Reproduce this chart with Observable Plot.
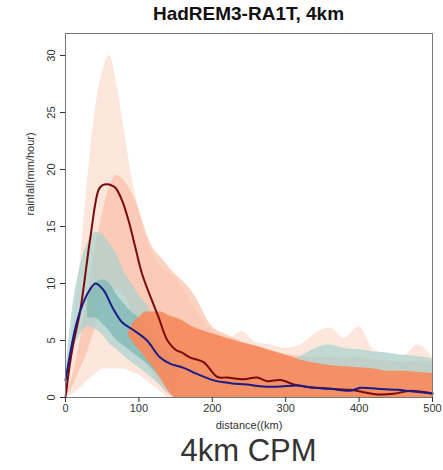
<!DOCTYPE html>
<html>
<head>
<meta charset="utf-8">
<script src="https://cdn.jsdelivr.net/npm/d3@7"></script>
<script src="https://cdn.jsdelivr.net/npm/@observablehq/plot@0.6"></script>
<style>
  html, body { margin: 0; padding: 0; background: #fff; }
  body { width: 443px; height: 470px; position: relative; overflow: hidden; font-family: "Liberation Sans", Arial, sans-serif; }
  #title { position: absolute; left: 65px; width: 367px; top: 3px; text-align: center; font-weight: bold; font-size: 19px; color: #111; }
  #caption { position: absolute; left: 65px; width: 367px; top: 433px; text-align: center; font-size: 31px; color: #333; }
  #chart { position: absolute; left: 0; top: 0; }
</style>
</head>
<body>
<div id="chart"></div>
<div id="title">HadREM3-RA1T, 4km</div>
<div id="caption">4km CPM</div>
<script>
// ---- data ----
const grid = [0,10,20,30,40,50,60,70,80,90,100,110,120,130,140,150,160,170,180,190,200,220,240,260,280,300,320,340,360,380,400,420,440,460,480,500];

// orange (4km) scatter cloud envelopes
const orangeSparseHi = [1,6,12,19,25,28.5,30,27.5,23.5,19.5,16.5,14,12.5,11.5,11,10.5,9.5,8.5,7.5,6.5,5.8,5,5.8,4.8,4.6,4.3,4.6,5.6,6.1,5.2,6.2,4.2,3.8,3.6,4.6,3.5];
const orangeSparseLo = [0,0.3,0.8,1.5,2,2.5,2.5,2.5,2.5,2.2,2,1.5,1,0.5,0,0,0,0,0,0,0,0,0,0,0,0,0,0,0,0,0,0,0,0,0,0];
const orangeMidHi = [0.3,2,5,9,13,16,18.5,19.5,19,18,16.5,14.5,13,12.3,11.5,10.8,10.2,9.5,8.5,7.2,6.2,5.5,4.9,4.5,4.1,3.8,3.6,3.5,3.5,3.4,3.5,3.3,3.2,3.1,3.2,3];
const orangeMidLo = [0,1,2.5,4,6,8,9,9.5,9,7.5,5,3,2,1,0.3,0,0,0,0,0,0,0,0,0,0,0,0,0,0,0,0,0,0,0,0,0];
const coreDist = [85,90,100,110,120,130,140,150,160,170,180,190,200,220,240,260,280,300,320,340,360,380,400,420,440,460,480,500];
const coreHi = [5.5,6.3,7,7.5,7.5,7.5,7.2,7,6.7,6.3,6,5.8,5.6,5.2,4.8,4.5,4.1,3.7,3.3,3.0,2.8,2.7,2.6,2.5,2.3,2.3,2.2,2.1];
const coreLo = [5.5,5,4.2,3.4,2.6,1.6,0.6,0,0,0,0,0,0,0,0,0,0,0,0,0,0,0,0,0,0,0,0,0];

// teal (12km) scatter cloud envelopes
const tealHi = [2,8,11.5,13.5,14.5,14.3,13.5,12.5,11,10,9,8.2,7.2,6,5,4.3,3.8,3.3,3,2.7,2.5,2.4,2.5,2.6,2.8,3.1,3.6,4.3,4.6,4.3,4.2,4.0,3.9,3.7,3.6,3.4];
const tealLo = [0.5,4,5.5,6.2,6,5.5,4.7,4.2,3.6,3.1,2.6,2.1,1.6,1,0.4,0,0,0,0,0,0,0,0,0,0,0,0,0,0,0,0,0,0,0,0,0];
const tealCoreDist = [30,40,50,60,70,80,90,100,110,120,130,140,150];
const tealCoreHi = [8.5,10,10.3,10,9,8.2,7.5,7,6.3,5.5,4.8,4,3.2];
const tealCoreLo = [7,7,6.5,5.8,5,4.5,4,3.5,3,2.4,1.7,1,0.5];

// mean lines
const redDist = [0,5,10,20,34,45,50,57,63,68,77,86,95,104,116,127,139,152,157,170,188,207,220,243,261,275,293,311,325,343,361,388,406,425,447,470,497,500];
const redVal  = [0,2.5,4.5,7.6,14.1,18.2,18.6,18.7,18.6,18.4,17.3,15.5,13.2,10.9,8.8,7.0,5.0,4.1,4.0,3.5,3.1,1.8,1.75,1.6,1.75,1.43,1.54,1.14,0.96,0.85,0.76,0.67,0.47,0.27,0.32,0.6,0.38,0.35];
const blueDist = [0,16,30,41,52,64,77,93,111,129,143,161,179,202,225,247,270,293,316,338,361,388,402,425,452,470,497,500];
const blueVal  = [1.5,6.75,9.1,10.0,9.4,7.9,6.6,5.9,5.0,3.5,2.95,2.6,2.07,1.5,1.26,1.14,0.96,0.96,1.05,0.85,0.76,0.6,0.85,0.76,0.67,0.55,0.38,0.36];

const xTicks = [0,100,200,300,400,500];
const yTicks = [0,5,10,15,20,25,30];

const band = (xs, lo, hi) => xs.map((d, i) => ({d, lo: lo[i], hi: hi[i]}));
const line = (xs, vs) => xs.map((d, i) => ({d, v: vs[i]}));

const chart = Plot.plot({
  width: 443,
  height: 440,
  marginLeft: 65,
  marginRight: 11,
  marginTop: 33,
  marginBottom: 43,
  style: {fontFamily: '"Liberation Sans", Arial, sans-serif', background: "transparent"},
  x: {domain: [0, 500]},
  y: {domain: [0, 31.93]},
  marks: [
    Plot.areaY(band(grid, orangeSparseLo, orangeSparseHi), {x: "d", y1: "lo", y2: "hi", fill: "#fde4d9", fillOpacity: 0.9, curve: "monotone-x"}),
    Plot.areaY(band(grid, orangeMidLo, orangeMidHi), {x: "d", y1: "lo", y2: "hi", fill: "#fbbfa6", fillOpacity: 0.7, curve: "monotone-x"}),
    Plot.areaY(band(grid, tealLo, tealHi), {x: "d", y1: "lo", y2: "hi", fill: "#a6d2ce", fillOpacity: 0.7, curve: "monotone-x"}),
    Plot.areaY(band(tealCoreDist, tealCoreLo, tealCoreHi), {x: "d", y1: "lo", y2: "hi", fill: "#72b3af", fillOpacity: 0.65, curve: "monotone-x"}),
    Plot.areaY(band(coreDist, coreLo, coreHi), {x: "d", y1: "lo", y2: "hi", fill: "#f78a5c", fillOpacity: 0.92, curve: "monotone-x"}),
    Plot.line(line(redDist, redVal), {x: "d", y: "v", stroke: "#7a0b0b", strokeWidth: 2, curve: "catmull-rom"}),
    Plot.line(line(blueDist, blueVal), {x: "d", y: "v", stroke: "#1b1b88", strokeWidth: 2, curve: "catmull-rom"}),
    Plot.frame({stroke: "#777", strokeWidth: 1}),
    Plot.axisX({ticks: xTicks, tickSize: 5, tickPadding: 2, fontSize: 11, label: null, color: "#333"}),
    Plot.axisY({ticks: yTicks, tickSize: 5, tickPadding: 6, tickRotate: -90, fontSize: 11, label: null, color: "#333"}),
    Plot.text(["distance((km)"], {frameAnchor: "bottom", dy: 31, fontSize: 11, fill: "#333"}),
    Plot.text(["rainfall(mm/hour)"], {frameAnchor: "left", rotate: -90, dx: -35, fontSize: 11, fill: "#333"})
  ]
});
document.getElementById("chart").appendChild(chart);
</script>
</body>
</html>
